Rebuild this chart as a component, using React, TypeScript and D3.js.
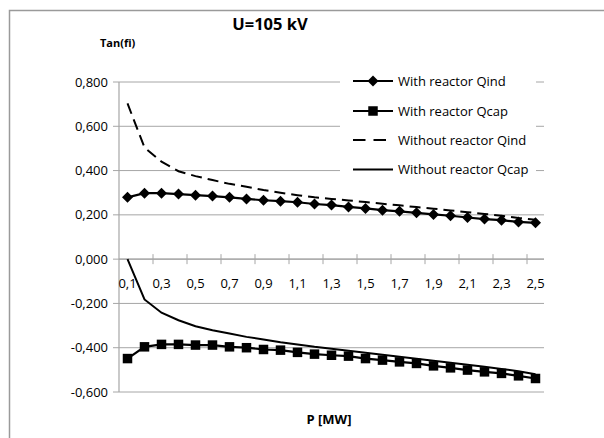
import React from 'react';
import * as d3 from 'd3';

const pValues = [0.1, 0.2, 0.3, 0.4, 0.5, 0.6, 0.7, 0.8, 0.9, 1.0, 1.1, 1.2, 1.3, 1.4, 1.5, 1.6, 1.7, 1.8, 1.9, 2.0, 2.1, 2.2, 2.3, 2.4, 2.5];

const withReactorQind = [0.279, 0.298, 0.298, 0.294, 0.289, 0.285, 0.279, 0.272, 0.266, 0.262, 0.257, 0.249, 0.244, 0.236, 0.229, 0.221, 0.216, 0.209, 0.202, 0.196, 0.188, 0.181, 0.176, 0.168, 0.164];
const withReactorQcap = [-0.449, -0.396, -0.385, -0.385, -0.388, -0.388, -0.396, -0.400, -0.408, -0.411, -0.421, -0.429, -0.434, -0.438, -0.449, -0.456, -0.464, -0.471, -0.482, -0.491, -0.501, -0.509, -0.516, -0.527, -0.539];
const withoutReactorQind = [0.703, 0.504, 0.440, 0.397, 0.375, 0.357, 0.340, 0.327, 0.312, 0.300, 0.289, 0.279, 0.272, 0.265, 0.258, 0.250, 0.243, 0.235, 0.228, 0.220, 0.212, 0.204, 0.196, 0.186, 0.178];
const withoutReactorQcap = [0.000, -0.182, -0.242, -0.276, -0.303, -0.321, -0.336, -0.351, -0.363, -0.375, -0.385, -0.396, -0.405, -0.414, -0.423, -0.432, -0.441, -0.450, -0.459, -0.468, -0.477, -0.486, -0.496, -0.506, -0.520];

const yTicks = [0.8, 0.6, 0.4, 0.2, 0.0, -0.2, -0.4, -0.6];
const seriesNames = ['With reactor Qind', 'With reactor Qcap', 'Without reactor Qind', 'Without reactor Qcap'];

const FONT = '"Open Sans", "Noto Sans", sans-serif';
const GRID = '#a6a6a6';

const fmtY = (v: number) => d3.format('.3f')(v).replace('.', ',').replace('−', '-');
const fmtX = (v: number) => d3.format('.1f')(v).replace('.', ',');

export default function App() {
  const W = 604, H = 438;
  const left = 119, right = 544, top = 82, bottom = 392;
  const x = d3.scaleBand<number>().domain(pValues).range([left, right]).padding(0);
  const cx = (p: number) => (x(p) as number) + x.bandwidth() / 2;
  const y = d3.scaleLinear().domain([-0.6, 0.8]).range([bottom, top]);

  const line = d3.line<number>().x((_, i) => cx(pValues[i])).y((v) => y(v));

  const diamond = (px: number, py: number, r = 5.5) => `M${px},${py - r}L${px + r},${py}L${px},${py + r}L${px - r},${py}Z`;
  const square = (px: number, py: number, s = 9.5) => `M${px - s / 2},${py - s / 2}h${s}v${s}h${-s}Z`;

  const y0 = y(0);
  const tickBoundaries = d3.range(2, pValues.length, 2).map((k) => left + k * x.bandwidth());

  const legendX = 353, legendRows = [81, 111, 140, 169.5];

  return (
    <svg width={W} height={H} style={{ position: 'fixed', left: 0, top: 0, background: '#fff' }} fontFamily={FONT}>
      <rect x={0} y={0} width={W} height={H} fill="#fff" />
      <rect x={9.5} y={10.5} width={700} height={600} fill="#fff" stroke="#9a9a9a" strokeWidth={1.5} />
      <text x={270} y={30} textAnchor="middle" fontSize={16.5} fontWeight="bold" fill="#000">U=105 kV</text>
      <text x={100} y={47} fontSize={11} fontWeight="bold" fill="#000">Tan(fi)</text>

      {/* gridlines */}
      {yTicks.map((t) => (
        <line key={t} x1={left} x2={right} y1={y(t)} y2={y(t)} stroke={GRID} strokeWidth={1} />
      ))}
      {/* y axis */}
      <line x1={left} x2={left} y1={top} y2={bottom} stroke={GRID} strokeWidth={1.2} />
      {yTicks.map((t) => (
        <g key={'yt' + t}>
          <line x1={left - 6} x2={left} y1={y(t)} y2={y(t)} stroke={GRID} />
          <text x={left - 11} y={y(t)} dy="0.35em" textAnchor="end" fontSize={13} fill="#000">{fmtY(t)}</text>
        </g>
      ))}
      {/* x axis at 0 */}
      <line x1={left} x2={right} y1={y0} y2={y0} stroke={GRID} strokeWidth={1.2} />
      {tickBoundaries.map((bx) => (
        <line key={'xt' + bx} x1={bx} x2={bx} y1={y0 - 5} y2={y0 + 5} stroke={GRID} />
      ))}
      {pValues.filter((_, i) => i % 2 === 0).map((p) => (
        <text key={'xl' + p} x={cx(p)} y={288} textAnchor="middle" fontSize={13} fill="#000">{fmtX(p)}</text>
      ))}

      {/* series */}
      <path d={line(withoutReactorQind) || ''} fill="none" stroke="#000" strokeWidth={2} strokeDasharray="11,6" />
      <path d={line(withoutReactorQcap) || ''} fill="none" stroke="#000" strokeWidth={2} />
      <path d={line(withReactorQind) || ''} fill="none" stroke="#000" strokeWidth={2.2} />
      {withReactorQind.map((v, i) => (
        <path key={'d' + i} d={diamond(cx(pValues[i]), y(v))} fill="#000" />
      ))}
      <path d={line(withReactorQcap) || ''} fill="none" stroke="#000" strokeWidth={2.2} />
      {withReactorQcap.map((v, i) => (
        <path key={'s' + i} d={square(cx(pValues[i]), y(v))} fill="#000" />
      ))}

      {/* legend */}
      <rect x={340} y={66} width={196} height={118} fill="#fff" />
      {seriesNames.map((name, i) => {
        const ly = legendRows[i];
        return (
          <g key={name}>
            {i === 2 ? (
              <line x1={legendX} x2={legendX + 40} y1={ly} y2={ly} stroke="#000" strokeWidth={2} strokeDasharray="12.5,8" />
            ) : (
              <line x1={legendX} x2={legendX + 40} y1={ly} y2={ly} stroke="#000" strokeWidth={2} />
            )}
            {i === 0 && <path d={diamond(legendX + 20, ly)} fill="#000" />}
            {i === 1 && <path d={square(legendX + 20, ly)} fill="#000" />}
            <text x={legendX + 45} y={ly} dy="0.35em" fontSize={13} fill="#000">{name}</text>
          </g>
        );
      })}

      <text x={329} y={424} textAnchor="middle" fontSize={13} fontWeight="bold" fill="#000">P [MW]</text>
    </svg>
  );
}
